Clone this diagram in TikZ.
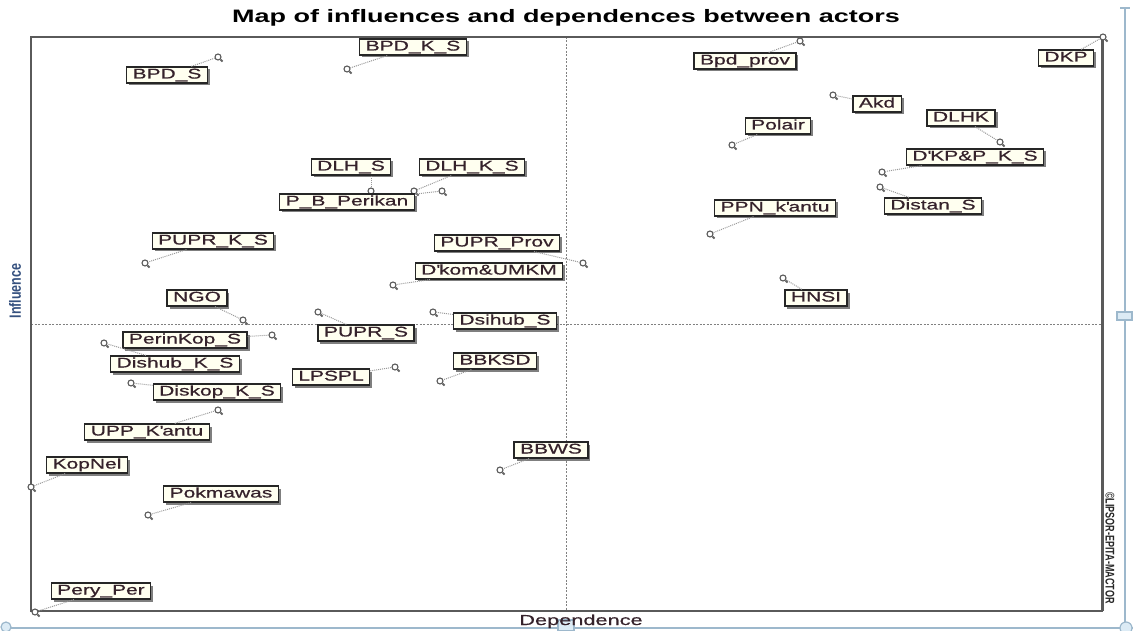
\documentclass[tikz,border=0pt]{standalone}
\usepackage{fontspec}
\usepackage{graphicx}
\setmainfont{Liberation Sans}[FakeStretch=1.5]
\newfontfamily\plainfont{Liberation Sans}
\newfontfamily\lblfont{Liberation Sans}[FakeStretch=1.5, FakeBold=0.6]
\usetikzlibrary{shadows}
\definecolor{boxfill}{HTML}{FFFFF0}
\definecolor{boxdraw}{HTML}{262626}
\definecolor{txtcol}{HTML}{35222B}
\definecolor{framecol}{HTML}{5A5A5A}
\definecolor{scrollcol}{HTML}{9DB8CC}
\definecolor{scrollfill}{HTML}{DCEBF5}
\definecolor{inflcol}{HTML}{34507E}
\tikzset{
  lbl/.style={draw=boxdraw, line width=1.2pt, fill=boxfill, inner xsep=6pt, inner ysep=0pt,
    minimum height=16pt, text height=10pt, text depth=3pt, text=txtcol,
    font=\lblfont\fontsize{14}{14}\selectfont,
    drop shadow={shadow xshift=2.5pt, shadow yshift=-2.5pt, fill=black, opacity=0.5}},
  mkr/.style={circle, draw=black!65, line width=1.1pt, minimum size=6pt, inner sep=0pt, fill=white},
  tl/.style={draw=black!60, line width=2pt},
  ldr/.style={draw=black!40, densely dotted, line width=1pt},
  quad/.style={draw=black!50, line width=0.6pt, dash pattern=on 2pt off 1.5pt},
  scr/.style={draw=scrollcol, line width=1.2pt}
}
\newcommand\actor[4]{%
  \node[lbl] (b#1) at (#3) {#2};
  \node[mkr] (m#1) at (#4) {};
  \draw[ldr] (b#1) -- (m#1);
  \draw[tl] (m#1.south east) -- ++(2,2);
}
\begin{document}
\begin{tikzpicture}[x=1pt,y=-1pt]
\useasboundingbox (0,0) rectangle (1133,631);
% scroll bars
\draw[scr] (1125,8) -- (1125,627);
\draw[scr] (1120,8) -- (1130,8);
\draw[scr, fill=scrollfill] (1117,312) rectangle (1132,320);
\draw[scr] (10,628) -- (1133,628);
\draw[scr, fill=scrollfill] (558,620) rectangle (574,631);
\draw[scr, fill=scrollfill] (1126,628) circle (6);
\draw[scr, fill=scrollfill] (6,627) circle (5);
% quadrant lines
\draw[quad] (566,37) -- (566,611);
\draw[quad] (31,324) -- (1102,324);
% frame
\draw[draw=framecol, line width=2pt] (31,37) rectangle (1102,611);
\draw[draw=framecol, line width=1pt] (1103.5,37) -- (1103.5,611);
% title and axis labels
\node[font=\bfseries\fontsize{18}{18}\selectfont, anchor=base] (title) at (566,23) {Map of influences and dependences between actors};
\node[font=\lblfont\fontsize{14.5}{14.5}\selectfont, text=txtcol, anchor=base] (dep) at (581,625) {Dependence};
\node[font=\plainfont\bfseries\fontsize{12.5}{12.5}\selectfont, text=inflcol, rotate=90] (infl) at (15,291) {\scalebox{1}[1.3]{Influence}};
\node[font=\plainfont\bfseries\fontsize{9}{9}\selectfont, text=black!85, rotate=-90] (wm) at (1110,548) {\scalebox{1}[1.4]{\textcopyright LIPSOR-EPITA-MACTOR}};
% actors
\actor{BPDS}{BPD\_S}{167,75}{218,57}
\actor{BPDKS}{BPD\_K\_S}{413,47}{347,69}
\actor{Bpdprov}{Bpd\_prov}{745,61}{800,41}
\actor{DKP}{DKP}{1066,58}{1103,37}
\actor{Akd}{Akd}{877,104}{833,95}
\actor{DLHK}{DLHK}{961,118}{1000,142}
\actor{Polair}{Polair}{778,126}{732,145}
\actor{DKPPKS}{D\textquotesingle KP\&P\_K\_S}{975,157}{882,172}
\actor{DistanS}{Distan\_S}{933,206}{880,187}
\actor{PPN}{PPN\_k\textquotesingle antu}{775,208}{710,234}
\actor{HNSI}{HNSI}{816,298}{783,278}
\node[lbl] (bDLHS) at (351,167) {DLH\_S};
\node[mkr] (mDLHS) at (371,191) {};
\draw[ldr] (bDLHS.south -| mDLHS) -- (mDLHS);
\draw[tl] (mDLHS.south east) -- ++(2,2);
\actor{DLHKS}{DLH\_K\_S}{472,167}{414,191}
\actor{PBP}{P\_B\_Perikan}{347,202}{442,191}
\actor{PUPRKS}{PUPR\_K\_S}{213,241}{145,263}
\actor{PUPRProv}{PUPR\_Prov}{497,243}{583,263}
\actor{Dkom}{D\textquotesingle kom\&UMKM}{489,271}{393,285}
\actor{NGO}{NGO}{197,298}{243,320}
\actor{PUPRS}{PUPR\_S}{366,333}{318,312}
\actor{DsihubS}{Dsihub\_S}{505,321}{433,312}
\actor{PerinKopS}{PerinKop\_S}{185,340}{272,335}
\actor{DishubKS}{Dishub\_K\_S}{175,364}{104,343}
\actor{LPSPL}{LPSPL}{331,377}{395,367}
\actor{BBKSD}{BBKSD}{495,361}{440,381}
\actor{DiskopKS}{Diskop\_K\_S}{217,392}{131,383}
\actor{UPP}{UPP\_K\textquotesingle antu}{147,432}{218,410}
\actor{BBWS}{BBWS}{551,450}{500,470}
\actor{KopNel}{KopNel}{87,465}{31,487}
\actor{Pokmawas}{Pokmawas}{221,494}{148,515}
\actor{PeryPer}{Pery\_Per}{101,591}{35,612}
\end{tikzpicture}
\end{document}
